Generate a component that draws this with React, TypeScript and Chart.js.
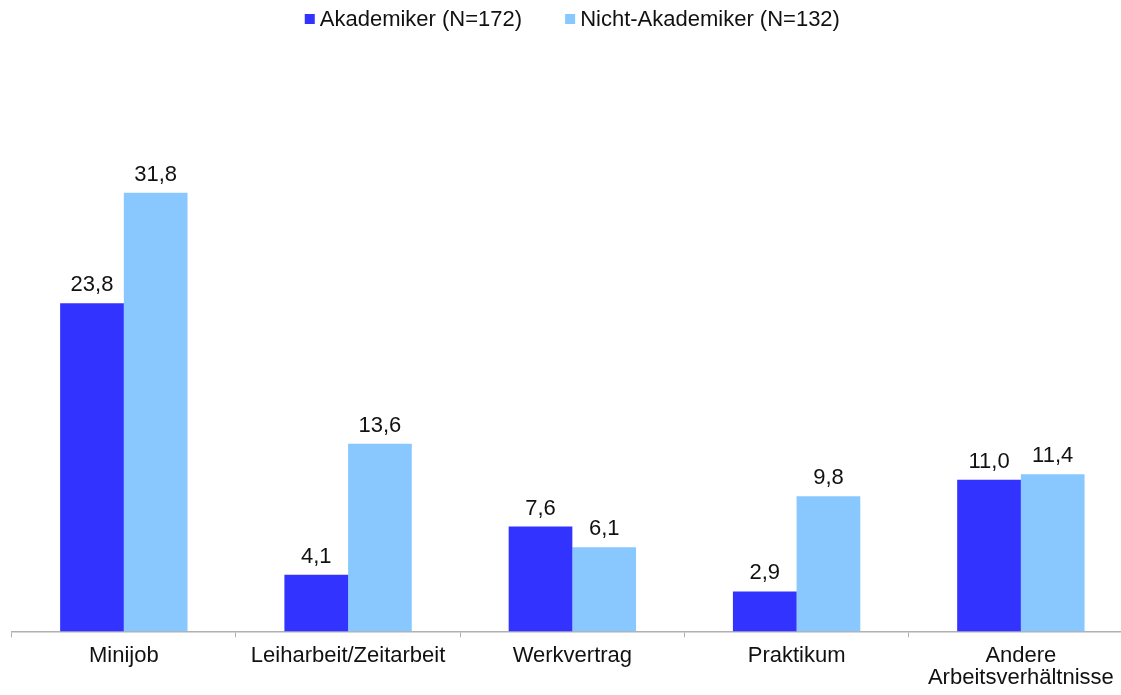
import React, { useEffect, useRef } from "react";
import { Chart, registerables } from "chart.js";

Chart.register(...registerables);

const categories: (string | string[])[] = [
  "Minijob",
  "Leiharbeit/Zeitarbeit",
  "Werkvertrag",
  "Praktikum",
  ["Andere", "Arbeitsverhältnisse"],
];
const seriesNames = ["Akademiker (N=172)", "Nicht-Akademiker (N=132)"];
const akademiker = [23.8, 4.1, 7.6, 2.9, 11.0];
const nichtAkademiker = [31.8, 13.6, 6.1, 9.8, 11.4];
const seriesColors = ["#3333FF", "#88C8FF"];
const yMax = 40;

const FONT = "'Liberation Sans', Arial, sans-serif";
const FONT_SIZE = 22;

const valueLabels = {
  id: "valueLabels",
  afterDatasetsDraw(chart: any) {
    const ctx = chart.ctx;
    ctx.save();
    ctx.font = `${FONT_SIZE}px ${FONT}`;
    ctx.fillStyle = "#111111";
    ctx.textAlign = "center";
    ctx.textBaseline = "alphabetic";
    chart.data.datasets.forEach((ds: any, i: number) => {
      const meta = chart.getDatasetMeta(i);
      meta.data.forEach((bar: any, j: number) => {
        const v = ds.data[j] as number;
        ctx.fillText(v.toFixed(1).replace(".", ","), bar.x, bar.y - 12);
      });
    });
    ctx.restore();
  },
};

const customLegend = {
  id: "customLegend",
  afterDraw(chart: any) {
    const ctx = chart.ctx;
    ctx.save();
    ctx.font = `${FONT_SIZE}px ${FONT}`;
    ctx.textBaseline = "alphabetic";
    ctx.textAlign = "left";
    const box = 10;
    const gapText = 5;
    const gapItem = 43;
    const ds = chart.data.datasets;
    const widths = ds.map((d: any) => ctx.measureText(d.label).width);
    const total =
      widths.reduce((a: number, w: number) => a + box + gapText + w, 0) +
      gapItem * (ds.length - 1);
    let x = (chart.chartArea.left + chart.chartArea.right) / 2 - total / 2;
    ds.forEach((d: any, i: number) => {
      ctx.fillStyle = d.backgroundColor;
      ctx.fillRect(x, 14, box, box);
      ctx.fillStyle = "#111111";
      ctx.fillText(d.label, x + box + gapText, 26);
      x += box + gapText + widths[i] + gapItem;
    });
    ctx.restore();
  },
};

export default function App() {
  const ref = useRef<HTMLCanvasElement>(null);

  useEffect(() => {
    if (!ref.current) return;
    const chart = new Chart(ref.current, {
      type: "bar",
      data: {
        labels: categories,
        datasets: [
          {
            label: seriesNames[0],
            data: akademiker,
            backgroundColor: seriesColors[0],
            categoryPercentage: 0.568,
            barPercentage: 1,
          },
          {
            label: seriesNames[1],
            data: nichtAkademiker,
            backgroundColor: seriesColors[1],
            categoryPercentage: 0.568,
            barPercentage: 1,
          },
        ],
      },
      options: {
        responsive: false,
        animation: false,
        layout: { padding: { left: 11.7, right: 1, top: 79.7, bottom: 5.6 } },
        plugins: {
          legend: { display: false },
          tooltip: { enabled: false },
        },
        scales: {
          x: {
            grid: {
              display: true,
              drawOnChartArea: false,
              drawTicks: true,
              tickLength: 6,
              color: "#b0b0b0",
              lineWidth: 1,
              offset: true,
            },
            border: { display: true, color: "#b0b0b0", width: 1.5 },
            ticks: {
              color: "#111111",
              padding: 8,
              maxRotation: 0,
              autoSkip: false,
              font: { family: FONT, size: FONT_SIZE, lineHeight: 1.0 },
            },
          },
          y: {
            display: false,
            min: 0,
            max: yMax,
          },
        },
      },
      plugins: [valueLabels, customLegend],
    });
    return () => chart.destroy();
  }, []);

  return (
    <div
      style={{
        position: "fixed",
        left: 0,
        top: 0,
        width: 1121,
        height: 695,
        overflow: "hidden",
        background: "#ffffff",
      }}
    >
      <canvas
        ref={ref}
        width={1134}
        height={703}
        style={{ display: "block", width: 1134, height: 703 }}
      />
    </div>
  );
}
